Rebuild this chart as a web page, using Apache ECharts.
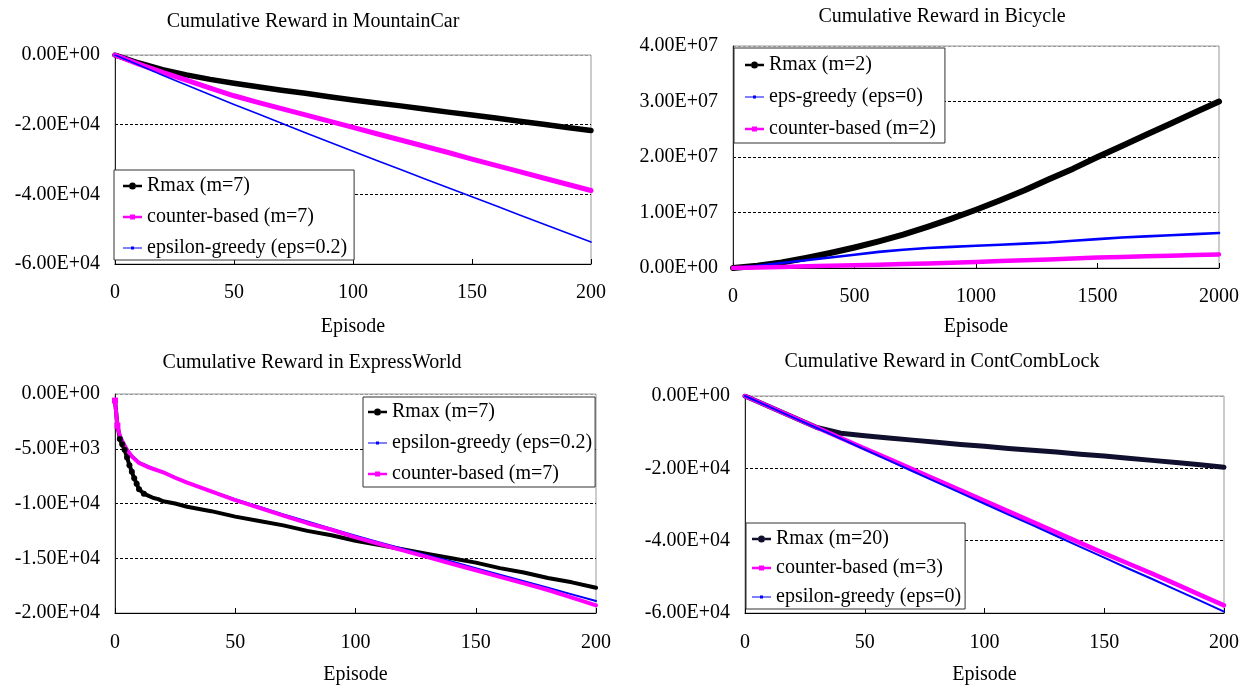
<!DOCTYPE html>
<html><head><meta charset="utf-8">
<script src="https://cdn.jsdelivr.net/npm/echarts@6/dist/echarts.min.js"></script>
<style>html,body{margin:0;padding:0;background:#fff}#c{width:1242px;height:687px}</style>
</head><body><div id="c"></div>
<script>
// ---------- Data ----------
const titles = ['Cumulative Reward in MountainCar','Cumulative Reward in Bicycle','Cumulative Reward in ExpressWorld','Cumulative Reward in ContCombLock'];
const xAxisName = 'Episode';

// MountainCar
const mcEpisodes = [0,10,20,30,40,50,60,70,80,90,100,110,120,130,140,150,160,170,180,190,200];
const mcRmax    = [0,-2300,-4200,-5700,-7000,-8100,-9100,-10100,-11000,-12000,-12900,-13800,-14600,-15500,-16400,-17200,-18100,-19000,-19900,-20800,-21700];
const mcCounter = [0,-2600,-5000,-7200,-9500,-11700,-13600,-15400,-17200,-19000,-20800,-22600,-24400,-26200,-28000,-29900,-31700,-33500,-35300,-37100,-38900];
const mcEps     = [0,-2900,-5800,-8600,-11400,-14200,-16900,-19600,-22300,-25000,-27600,-30300,-32900,-35500,-38100,-40700,-43300,-45900,-48500,-51100,-53700];
const mcNames = ['Rmax (m=7)','counter-based (m=7)','epsilon-greedy (eps=0.2)'];

// Bicycle
const bcEpisodes = [0,100,200,300,400,500,600,700,800,900,1000,1100,1200,1300,1400,1500,1600,1700,1800,1900,2000];
const bcRmax    = [0,4e5,1.0e6,1.8e6,2.7e6,3.7e6,4.8e6,6.0e6,7.4e6,8.9e6,1.05e7,1.22e7,1.40e7,1.60e7,1.79e7,2.0e7,2.2e7,2.4e7,2.6e7,2.8e7,3.0e7];
const bcEps     = [0,4e5,9e5,1.4e6,1.9e6,2.4e6,2.9e6,3.3e6,3.6e6,3.8e6,4.0e6,4.2e6,4.4e6,4.6e6,4.9e6,5.2e6,5.5e6,5.7e6,5.9e6,6.1e6,6.3e6];
const bcCounter = [0,1e5,2e5,3e5,4e5,5e5,6e5,7e5,8e5,9.5e5,1.1e6,1.25e6,1.4e6,1.55e6,1.7e6,1.9e6,2.0e6,2.1e6,2.2e6,2.33e6,2.45e6];
const bcNames = ['Rmax (m=2)','eps-greedy (eps=0)','counter-based (m=2)'];

// ExpressWorld
const ewEpisodes = [0,1,2,3,4,5,6,7,8,9,10,12,14,16,18,20,25,30,40,50,60,70,80,90,100,110,120,130,140,150,160,170,180,190,200];
const ewRmax    = [-600,-2800,-4100,-4600,-5100,-5800,-6500,-7100,-7700,-8200,-8700,-9100,-9300,-9500,-9600,-9800,-10000,-10300,-10700,-11200,-11600,-12000,-12500,-12900,-13400,-13800,-14200,-14600,-15000,-15400,-15900,-16300,-16800,-17200,-17700];
const ewEps     = [-600,-2700,-3600,-4200,-4600,-5000,-5300,-5600,-5800,-6000,-6200,-6400,-6600,-6800,-6950,-7100,-7600,-8050,-8850,-9600,-10300,-11000,-11650,-12300,-12950,-13550,-14150,-14750,-15300,-15900,-16500,-17100,-17700,-18300,-18900];
const ewCounter = [-600,-2900,-3800,-4300,-4700,-5100,-5400,-5700,-5900,-6100,-6300,-6500,-6700,-6850,-7000,-7150,-7650,-8100,-8900,-9700,-10400,-11100,-11800,-12400,-13100,-13700,-14300,-14900,-15500,-16100,-16700,-17300,-17900,-18600,-19300];
const ewNames = ['Rmax (m=7)','epsilon-greedy (eps=0.2)','counter-based (m=7)'];

// ContCombLock
const ccEpisodes = [0,10,20,30,40,50,60,70,80,90,100,110,120,130,140,150,160,170,180,190,200];
const ccRmax    = [0,-2900,-5800,-8700,-10300,-11000,-11600,-12200,-12800,-13400,-13900,-14500,-15000,-15500,-16100,-16600,-17200,-17800,-18400,-19000,-19700];
const ccCounter = [0,-2900,-5800,-8700,-11600,-14500,-17400,-20300,-23200,-26100,-29000,-31900,-34800,-37700,-40600,-43500,-46300,-49100,-52000,-55000,-57900];
const ccEps     = [0,-2950,-5900,-8850,-11800,-14800,-17800,-20800,-23800,-26800,-29800,-32800,-35700,-38700,-41700,-44700,-47700,-50600,-53600,-56600,-59600];
const ccNames = ['Rmax (m=20)','counter-based (m=3)','epsilon-greedy (eps=0)'];

// ---------- Styling ----------
const FONT = 'Liberation Serif, Times New Roman, serif';
const BLACK = '#000000', MAGENTA = '#ff00ff', BLUE = '#0000ff', NAVY = '#10102e';
const ICON_CIRCLE = 'path://M0,3.8H6V6.2H0Z M13,3.8H19V6.2H13Z M6,5A3.5,3.5 0 1 1 13,5A3.5,3.5 0 1 1 6,5Z';
const ICON_SQUARE = 'path://M0,3.8H7V6.2H0Z M7,2.5H12V7.5H7Z M12,3.8H19V6.2H12Z';
const ICON_DOT = 'path://M0,4.4H8V5.6H0Z M8,3.5H11V6.5H8Z M11,4.4H19V5.6H11Z';

function fmtE(v) {
  const s = Number(v).toExponential(2).toUpperCase();
  return s.replace(/E([+-])(\d+)$/, function (m, sg, d) { return 'E' + sg + (d.length < 2 ? '0' + d : d); });
}
function fmtPlain(v) { return String(v); }
function pairs(xs, ys) { return xs.map(function (x, i) { return [x, ys[i]]; }); }

const grids = [
  {left:115, top:55, width:476, height:209},
  {left:733, top:46, width:488, height:222},
  {left:115, top:394, width:481, height:219},
  {left:745, top:396, width:482, height:217}
];
const titlePos = [[313,12],[942,7],[312,353],[942,352]];
const xCfg = [
  {max:200, interval:50, margin:19, nameGap:53},
  {max:2000, interval:500, margin:19, nameGap:49},
  {max:200, interval:50, margin:20, nameGap:52},
  {max:200, interval:50, margin:20, nameGap:52}
];
const yCfg = [
  {min:-60000, max:0, interval:20000, n:4},
  {min:0, max:40000000, interval:10000000, n:5},
  {min:-20000, max:0, interval:5000, n:5},
  {min:-60000, max:0, interval:20000, n:4}
];
const legendCfg = [
  {left:114, top:170, padding:[5,7,1,9], itemGap:9},
  {left:734, top:48, padding:[6,9,3,11], itemGap:10},
  {left:363, top:397, padding:[4,3,2,5], itemGap:9},
  {left:746, top:523, padding:[5,4,1,6], itemGap:7}
];

const option = {
  backgroundColor: '#ffffff',
  animation: false,
  textStyle: {fontFamily: FONT},
  title: titles.map(function (t, i) {
    return {text: t, left: titlePos[i][0], top: titlePos[i][1], textAlign: 'center', padding: 0,
      textStyle: {fontFamily: FONT, fontSize: 20, fontWeight: 'normal', color: '#000'}};
  }),
  grid: grids.map(function (g) {
    return Object.assign({show: true, borderColor: '#999', borderWidth: 1, backgroundColor: 'transparent'}, g);
  }),
  xAxis: xCfg.map(function (c, i) {
    return {type: 'value', gridIndex: i, min: 0, max: c.max, interval: c.interval,
      name: xAxisName, nameLocation: 'middle', nameGap: c.nameGap,
      nameTextStyle: {fontFamily: FONT, fontSize: 20, color: '#000'},
      axisLine: {show: true, onZero: false, lineStyle: {color: '#000', width: 1}},
      axisTick: {show: true, inside: true, length: 5, lineStyle: {color: '#000'}},
      axisLabel: {fontFamily: FONT, fontSize: 20, color: '#000', margin: c.margin, formatter: fmtPlain},
      splitLine: {show: false}};
  }),
  yAxis: yCfg.map(function (c, i) {
    const cols = [];
    for (let k = 0; k < c.n - 1; k++) cols.push('#000');
    cols.push('#999');
    return {type: 'value', gridIndex: i, min: c.min, max: c.max, interval: c.interval,
      axisLine: {show: true, onZero: false, lineStyle: {color: '#222', width: 1}},
      axisTick: {show: false},
      axisLabel: {fontFamily: FONT, fontSize: 20, color: '#000', margin: 15, formatter: fmtE},
      splitLine: {show: true, lineStyle: {color: cols, type: [3, 2], width: 1}}};
  }),
  legend: [],
  series: []
};

function addPanel(idx, names, icons, list) {
  const lc = legendCfg[idx];
  option.legend.push({
    orient: 'vertical', left: lc.left, top: lc.top, padding: lc.padding, itemGap: lc.itemGap,
    itemWidth: 19, itemHeight: 22, selectedMode: false,
    backgroundColor: '#fff', borderColor: '#333', borderWidth: 1, borderRadius: 0,
    itemStyle: {borderWidth: 0},
    textStyle: {fontFamily: FONT, fontSize: 20, color: '#000', lineHeight: 22},
    data: names.map(function (n, k) { return {name: n, icon: icons[k]}; })
  });
  list.forEach(function (s) {
    option.series.push({
      type: 'line', name: s.name, xAxisIndex: idx, yAxisIndex: idx,
      data: s.data, color: s.color,
      symbol: s.symbol || 'none', symbolSize: s.symbolSize || 0,
      showSymbol: !!s.symbol, showAllSymbol: true,
      lineStyle: {color: s.lineColor || s.color, width: s.width, cap: 'round', join: 'round'},
      itemStyle: {color: s.color},
      emphasis: {disabled: true}, silent: true, z: 2
    });
  });
}

addPanel(0, mcNames, [ICON_CIRCLE, ICON_SQUARE, ICON_DOT], [
  {name: mcNames[0], data: pairs(mcEpisodes, mcRmax), color: BLACK, width: 5.5},
  {name: mcNames[1], data: pairs(mcEpisodes, mcCounter), color: MAGENTA, width: 5},
  {name: mcNames[2], data: pairs(mcEpisodes, mcEps), color: BLUE, width: 1.6}
]);
addPanel(1, bcNames, [ICON_CIRCLE, ICON_DOT, ICON_SQUARE], [
  {name: bcNames[0], data: pairs(bcEpisodes, bcRmax), color: BLACK, width: 6},
  {name: bcNames[1], data: pairs(bcEpisodes, bcEps), color: BLUE, width: 2.6},
  {name: bcNames[2], data: pairs(bcEpisodes, bcCounter), color: MAGENTA, width: 4.5}
]);
addPanel(2, ewNames, [ICON_CIRCLE, ICON_DOT, ICON_SQUARE], [
  {name: ewNames[0], data: pairs(ewEpisodes, ewRmax), color: BLACK, width: 4,
    symbol: function (v) { return v[0] >= 2 && v[0] <= 12 ? 'circle' : 'none'; }, symbolSize: 6},
  {name: ewNames[1], data: pairs(ewEpisodes, ewEps), color: BLUE, width: 2},
  {name: ewNames[2], data: pairs(ewEpisodes, ewCounter), color: MAGENTA, width: 4,
    symbol: function (v) { return v[0] <= 1 ? 'rect' : 'none'; }, symbolSize: 6}
]);
addPanel(3, ccNames, [ICON_CIRCLE, ICON_SQUARE, ICON_DOT], [
  {name: ccNames[0], data: pairs(ccEpisodes, ccRmax), color: NAVY, width: 5},
  {name: ccNames[1], data: pairs(ccEpisodes, ccCounter), color: MAGENTA, width: 4.5},
  {name: ccNames[2], data: pairs(ccEpisodes, ccEps), color: BLUE, width: 2}
]);

const chart = echarts.init(document.getElementById('c'), null, {renderer: 'canvas'});
chart.setOption(option);
</script>
</body></html>
